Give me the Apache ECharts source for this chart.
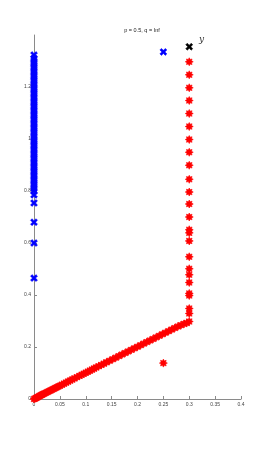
<!DOCTYPE html>
<html><head><meta charset="utf-8">
<script src="https://cdn.jsdelivr.net/npm/echarts@6/dist/echarts.min.js"></script>
<style>html,body{margin:0;padding:0;background:#fff}#c{width:266px;height:449px}</style>
</head><body><div id="c"></div>
<script>
const titleText = "p = 0.5, q = Inf";
const xTicks = [0, 0.05, 0.1, 0.15, 0.2, 0.25, 0.3, 0.35, 0.4];
const yTicks = [0, 0.2, 0.4, 0.6, 0.8, 1, 1.2];

// red '*' points: diagonal part
const redDiagX = [0,0.002,0.004,0.006,0.008,0.01,0.012,0.014,0.016,0.018,0.02,0.023,0.026,0.029,0.032,0.035,0.038,0.041,0.044,0.047,0.05,0.054,0.058,0.062,0.066,0.07,0.074,0.078,0.083,0.088,0.092,0.096,0.1,0.104,0.108,0.112,0.116,0.12,0.125,0.13,0.135,0.14,0.146,0.152,0.158,0.164,0.17,0.176,0.182,0.188,0.194,0.2,0.206,0.212,0.218,0.224,0.23,0.236,0.242,0.248,0.254,0.26,0.266,0.272,0.278,0.284,0.29,0.295,0.3];
const redDiagY = [0,0.002,0.004,0.006,0.008,0.011,0.013,0.015,0.017,0.019,0.021,0.024,0.027,0.03,0.033,0.036,0.039,0.042,0.045,0.048,0.051,0.055,0.059,0.063,0.067,0.071,0.075,0.079,0.084,0.089,0.093,0.097,0.101,0.105,0.109,0.113,0.117,0.121,0.126,0.131,0.136,0.141,0.147,0.153,0.159,0.165,0.171,0.177,0.183,0.189,0.195,0.201,0.207,0.213,0.219,0.225,0.231,0.237,0.243,0.249,0.255,0.261,0.267,0.273,0.279,0.284,0.289,0.292,0.298];
// red '*' points: vertical part at x = 0.3
const redVertY = [0.329,0.348,0.398,0.406,0.448,0.478,0.501,0.547,0.608,0.639,0.651,0.700,0.750,0.796,0.845,0.899,0.949,0.998,1.048,1.098,1.148,1.197,1.247,1.297];
const redOutlier = [[0.25, 0.138]];
// blue 'x' points on x = 0
const blueY = [0.465,0.600,0.680,0.754,0.785,0.80,0.81,0.82,0.83,0.84,0.85,0.86,0.87,0.88,0.89,0.90,0.91,0.92,0.93,0.94,0.95,0.96,0.97,0.98,0.99,1.00,1.01,1.02,1.03,1.04,1.05,1.06,1.07,1.08,1.09,1.10,1.11,1.12,1.13,1.14,1.15,1.16,1.17,1.18,1.19,1.20,1.21,1.22,1.23,1.24,1.25,1.26,1.27,1.28,1.29,1.30,1.31,1.323];
const blueOutlier = [[0.25, 1.335]];
const blackPoint = [[0.3, 1.355]];

const xPath = 'path://M0,2.2L2.2,0L5,2.8L7.8,0L10,2.2L7.2,5L10,7.8L7.8,10L5,7.2L2.2,10L0,7.8L2.8,5Z';
const starPath = 'path://M5,0L6.2,2.2L8.5,1.5L7.8,3.8L10,5L7.8,6.2L8.5,8.5L6.2,7.8L5,10L3.8,7.8L1.5,8.5L2.2,6.2L0,5L2.2,3.8L1.5,1.5L3.8,2.2Z';

const redData = redDiagX.map((x,i)=>[x, redDiagY[i]])
  .concat(redVertY.map(y=>[0.3,y])).concat(redOutlier);
const blueData = blueY.map(y=>[0,y]).concat(blueOutlier);

const chart = echarts.init(document.getElementById('c'));
const axisCol = '#8a8a8a';
chart.setOption({
  animation:false,
  backgroundColor:'#fff',
  title:{text:titleText,left:137,textAlign:'center',top:22,textStyle:{fontSize:5.5,fontWeight:'normal',color:'#222',fontFamily:'Liberation Sans'}},
  grid:{left:34,top:35,width:207,height:364},
  xAxis:{type:'value',min:0,max:0.4,interval:0.05,
    axisLine:{lineStyle:{color:axisCol,width:1}},
    axisTick:{inside:true,length:3,lineStyle:{color:axisCol}},
    splitLine:{show:false},
    axisLabel:{fontSize:5,color:'#444',margin:3,fontFamily:'Liberation Sans',
      formatter:v=>{const t=xTicks.find(a=>Math.abs(a-v)<1e-9);return t===undefined?'':String(t);}}},
  yAxis:{type:'value',min:0,max:1.4,interval:0.2,
    axisLine:{show:true,lineStyle:{color:axisCol,width:1}},
    axisTick:{show:true,inside:true,length:3,lineStyle:{color:axisCol}},
    splitLine:{show:false},
    axisLabel:{fontSize:5,color:'#444',margin:3,showMaxLabel:false,fontFamily:'Liberation Sans',
      formatter:v=>{const t=yTicks.find(a=>Math.abs(a-v)<1e-9);return t===undefined?'':String(t);}}},
  graphic:[{type:'text',left:199,top:35,style:{text:'y',font:'italic 9px "DejaVu Serif"',fill:'#333'}}],
  series:[
    {type:'scatter',data:blueData,symbol:xPath,symbolSize:7,itemStyle:{color:'#0000ff',borderColor:'#0000ff',borderWidth:0.5,opacity:1},z:3},
    {type:'scatter',data:redData,symbol:starPath,symbolSize:8,itemStyle:{color:'#ff0000',borderColor:'#ff0000',borderWidth:0.6,opacity:1},z:4},
    {type:'scatter',data:blackPoint,symbol:xPath,symbolSize:7,itemStyle:{color:'#000',borderColor:'#000',borderWidth:0.5,opacity:1},z:5}
  ]
});
</script></body></html>
